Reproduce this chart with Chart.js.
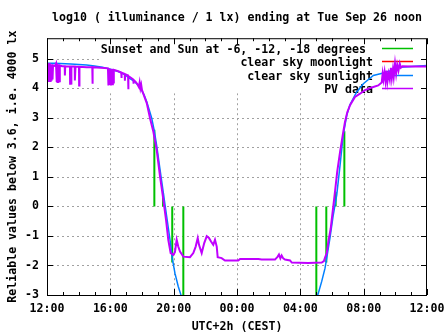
<!DOCTYPE html>
<html lang="en">
<head>
    <meta charset="UTF-8">
    <title>log10 illuminance</title>
    <style>
        body { margin: 0; background: #fff; }
        canvas { display: block; }
    </style>
</head>
<body>
    <canvas id="lux" width="447" height="335"></canvas>

    <script src="https://cdn.jsdelivr.net/npm/chart.js"></script>
    <script>
        // hours after Tue noon (CEST) and log10(lx) values
        const xTickValues = [0, 4, 8, 12, 16, 20, 24];
        const xTickLabels = ['12:00', '16:00', '20:00', '00:00', '04:00', '08:00', '12:00'];
        const yTickValues = [-3, -2, -1, 0, 1, 2, 3, 4, 5];

        // Sunset and Sun at -6, -12, -18 degrees (vertical marks from 0)
        const sunEventHours = [6.78, 7.33, 7.91, 8.61, 17.01, 17.64, 18.23, 18.78];
        const sunEventTops  = [2.6, 0.45, -1.9, -3.0, -3.0, -1.9, 0.5, 2.55];

        // clear sky moonlight: nothing visible in range
        const moonHours = [];
        const moonValues = [];

        // clear sky sunlight
        const clearHours = [0, 0.5, 1.5, 2.5, 3.0, 3.5, 4.0, 4.5, 4.9, 5.24, 5.49, 5.87, 6.13, 6.30, 6.44,
            6.61, 6.78, 6.93, 7.14, 7.35, 7.56, 7.77, 7.91, 8.08, 8.29, 8.46, 8.55,
            16.98, 17.14, 17.35, 17.56, 17.70, 17.87, 18.08, 18.30, 18.51, 18.71, 18.93, 19.14,
            19.56, 19.98, 20.61, 21.24, 21.7, 22.3, 24];
        const clearValues = [4.85, 4.85, 4.83, 4.79, 4.76, 4.72, 4.65, 4.57, 4.47, 4.33, 4.25, 4.05, 3.78, 3.55, 3.3,
            3.0, 2.55, 2.05, 1.25, 0.45, -0.34, -1.13, -1.75, -2.26, -2.71, -3.0, -3.2,
            -3.2, -2.93, -2.54, -2.09, -1.64, -1.07, -0.29, 0.39, 1.4, 2.42, 3.09, 3.45,
            3.88, 4.16, 4.44, 4.52, 4.6, 4.72, 4.78];

        // PV data
        const pvHours = [0.00, 0.02, 0.05, 0.08, 0.11, 0.14, 0.17, 0.20, 0.23, 0.26, 0.29, 0.32, 0.35, 0.38, 0.50,
            0.57, 0.60, 0.63, 0.66, 0.69, 0.72, 0.75, 0.78, 0.81, 0.95,
            1.12, 1.13, 1.15, 1.45, 1.46, 1.49, 1.52, 1.54, 1.75, 1.76, 1.80, 2.02, 2.03, 2.05, 2.5,
            2.86, 2.87, 2.89, 3.4, 3.85, 3.88, 3.92, 3.96, 4.00, 4.04, 4.08, 4.12, 4.16, 4.19, 4.22, 4.5,
            4.69, 4.70, 4.72, 4.91, 4.92, 4.94, 5.12, 5.13, 5.15, 5.30, 5.45, 5.46, 5.48, 5.60,
            5.70, 5.80, 5.85, 5.90, 5.95, 6.00, 6.08, 6.30, 6.51, 6.71, 6.93, 7.14, 7.35, 7.52, 7.66, 7.81, 7.98,
            8.08, 8.19, 8.29, 8.40, 8.61, 9.03, 9.24, 9.39, 9.52, 9.60, 9.77, 9.93, 10.09, 10.23, 10.36,
            10.50, 10.61, 10.72, 10.78, 11.03, 11.24, 12.08, 12.19, 13.35, 13.56, 14.40, 14.57, 14.65,
            14.74, 14.82, 14.92, 15.03, 15.35, 15.46, 16.50, 17.35, 17.49, 17.56, 17.67, 17.77, 17.92,
            18.04, 18.19, 18.33, 18.51, 18.68, 18.82, 18.97, 19.14, 19.45, 19.77, 20.08, 20.51, 20.92,
            21.14, 21.20, 21.25, 21.32, 21.38, 21.45, 21.50, 21.58, 21.65, 21.72, 21.78, 21.85, 21.90,
            21.98, 22.05, 22.12, 22.20, 22.28, 22.35, 22.45, 23.0, 24];
        const pvValues = [4.55, 4.84, 4.24, 4.82, 4.22, 4.86, 4.25, 4.82, 4.22, 4.80, 4.26, 4.82, 4.30, 4.78, 4.76,
            4.84, 4.22, 4.86, 4.22, 4.82, 4.23, 4.82, 4.24, 4.78, 4.75,
            4.75, 4.44, 4.75, 4.74, 4.16, 4.74, 4.17, 4.74, 4.74, 4.27, 4.74, 4.73, 4.10, 4.73, 4.72,
            4.72, 4.16, 4.72, 4.70, 4.68, 4.10, 4.67, 4.12, 4.66, 4.10, 4.66, 4.14, 4.64, 4.20, 4.63, 4.58,
            4.54, 4.35, 4.53, 4.49, 4.26, 4.48, 4.44, 3.97, 4.42, 4.36, 4.30, 4.16, 4.29, 4.22,
            4.15, 4.05, 4.20, 4.00, 4.12, 3.94, 3.82, 3.50, 2.98, 2.55, 1.91, 1.01, 0.22, -0.46, -1.13, -1.58, -1.64,
            -1.55, -1.13, -1.36, -1.53, -1.70, -1.72, -1.58, -1.36, -1.07, -1.30, -1.58, -1.24, -1.01, -1.07, -1.19,
            -1.30, -1.13, -1.36, -1.72, -1.75, -1.83, -1.83, -1.78, -1.78, -1.80, -1.80, -1.70, -1.63,
            -1.76, -1.66, -1.76, -1.80, -1.83, -1.90, -1.92, -1.90, -1.85, -1.73, -1.58, -1.19, -0.74,
            -0.18, 0.50, 1.18, 1.85, 2.42, 2.86, 3.20, 3.43, 3.71, 3.82, 3.94, 4.03, 4.10,
            4.20, 4.50, 4.30, 4.55, 4.25, 4.60, 4.22, 4.50, 4.30, 4.70, 4.35, 4.65, 4.40,
            4.84, 4.50, 4.80, 4.60, 4.84, 4.70, 4.75, 4.74, 4.74];

        const monoFont = { family: '"DejaVu Sans Mono", monospace', size: 11.6, weight: 'bold' };

        function toPoints(xs, ys) {
            return xs.map((x, i) => ({ x: x, y: ys[i] }));
        }

        // each event is a vertical segment from 0 to its top, broken by a gap
        function eventSegments(hours, tops) {
            const pts = [];
            hours.forEach((h, i) => {
                pts.push({ x: h, y: 0 }, { x: h, y: tops[i] }, { x: h, y: null });
            });
            return pts;
        }

        const keyItems = [
            { text: 'Sunset and Sun at -6, -12, -18 degrees', color: '#00c000', shift: -7 },
            { text: 'clear sky moonlight', color: '#ff0000', shift: 0 },
            { text: 'clear sky sunlight', color: '#0080ff', shift: 0 },
            { text: 'PV data', color: '#c000ff', shift: 0 }
        ];

        // gnuplot look: dashed grid, opaque key box with key, frame with inward ticks
        const gnuplotFrame = {
            id: 'gnuplotFrame',
            beforeDatasetsDraw(chart) {
                const { ctx, chartArea: a, scales: { x, y } } = chart;
                ctx.save();
                ctx.strokeStyle = '#a0a0a0';
                ctx.lineWidth = 1;
                ctx.setLineDash([2, 3]);
                ctx.beginPath();
                xTickValues.slice(1, -1).forEach(v => {
                    const px = Math.round(x.getPixelForValue(v)) + 0.5;
                    ctx.moveTo(px, a.top);
                    ctx.lineTo(px, a.bottom);
                });
                yTickValues.slice(1).forEach(v => {
                    const py = Math.round(y.getPixelForValue(v)) + 0.5;
                    ctx.moveTo(a.left, py);
                    ctx.lineTo(a.right, py);
                });
                ctx.stroke();
                // key background hides the grid
                ctx.setLineDash([]);
                ctx.fillStyle = '#fff';
                ctx.fillRect(a.left + 53, a.top + 1, a.right - a.left - 60, 54);

                ctx.font = 'bold 11.6px "DejaVu Sans Mono", monospace';
                ctx.textAlign = 'right';
                ctx.textBaseline = 'middle';
                keyItems.forEach((item, i) => {
                    const ly = Math.round(a.top + 9.7 + i * 13.33) + 0.5;
                    ctx.fillStyle = '#000';
                    ctx.fillText(item.text, a.left + 326 + item.shift, ly + 1.5);
                    ctx.strokeStyle = item.color;
                    ctx.lineWidth = 1.5;
                    ctx.beginPath();
                    ctx.moveTo(a.left + 335, ly);
                    ctx.lineTo(a.left + 366, ly);
                    ctx.stroke();
                });
                ctx.restore();
            },
            afterDatasetsDraw(chart) {
                const { ctx, chartArea: a, scales: { x, y } } = chart;
                ctx.save();
                ctx.strokeStyle = '#000';
                ctx.lineWidth = 1;
                ctx.strokeRect(a.left + 0.5, a.top + 0.5, a.right - a.left - 1, a.bottom - a.top);
                ctx.beginPath();
                for (let h = 0; h <= 24; h++) {
                    const px = Math.round(x.getPixelForValue(h)) + 0.5;
                    const len = h % 4 === 0 ? 6 : 3;
                    ctx.moveTo(px, a.bottom);
                    ctx.lineTo(px, a.bottom - len);
                    ctx.moveTo(px, a.top);
                    ctx.lineTo(px, a.top + len);
                }
                yTickValues.forEach(v => {
                    const py = Math.round(y.getPixelForValue(v)) + 0.5;
                    ctx.moveTo(a.left, py);
                    ctx.lineTo(a.left + 6, py);
                    ctx.moveTo(a.right, py);
                    ctx.lineTo(a.right - 6, py);
                });
                ctx.stroke();
                ctx.restore();
            }
        };

        const ctx = document.getElementById('lux').getContext('2d');
        new Chart(ctx, {
            type: 'line',
            data: {
                datasets: [
                    {
                        label: 'Sunset and Sun at -6, -12, -18 degrees',
                        data: eventSegments(sunEventHours, sunEventTops),
                        borderColor: '#00c000', borderWidth: 2, spanGaps: false, order: 4
                    },
                    {
                        label: 'clear sky moonlight',
                        data: toPoints(moonHours, moonValues),
                        borderColor: '#ff0000', borderWidth: 1.5, order: 3
                    },
                    {
                        label: 'clear sky sunlight',
                        data: toPoints(clearHours, clearValues),
                        borderColor: '#0080ff', borderWidth: 1.5, order: 2
                    },
                    {
                        label: 'PV data',
                        data: toPoints(pvHours, pvValues),
                        borderColor: '#c000ff', borderWidth: 2, order: 1
                    }
                ]
            },
            options: {
                responsive: false,
                animation: false,
                devicePixelRatio: 1,
                layout: { padding: { left: 0, right: 20, top: 0, bottom: 0 } },
                elements: {
                    point: { radius: 0 },
                    line: { tension: 0, fill: false, borderJoinStyle: 'miter' }
                },
                datasets: { line: { clip: 0 } },
                plugins: {
                    legend: { display: false },
                    tooltip: { enabled: false },
                    title: {
                        display: true,
                        fullSize: false,
                        text: 'log10 ( illuminance / 1 lx) ending at Tue Sep 26 noon',
                        color: '#000',
                        font: monoFont,
                        padding: { top: 11.5, bottom: 12.8 }
                    }
                },
                scales: {
                    x: {
                        type: 'linear',
                        min: 0,
                        max: 24,
                        grid: { display: false, drawTicks: false, tickLength: 0 },
                        border: { display: false },
                        afterBuildTicks: s => { s.ticks = xTickValues.map(v => ({ value: v })); },
                        afterFit: s => { s.height = 40; s.paddingLeft = 0; s.paddingRight = 0; },
                        ticks: {
                            callback: v => xTickLabels[xTickValues.indexOf(v)],
                            autoSkip: false,
                            maxRotation: 0,
                            padding: 7,
                            color: '#000',
                            font: monoFont
                        },
                        title: {
                            display: true,
                            text: 'UTC+2h (CEST)',
                            color: '#000',
                            font: monoFont,
                            padding: { top: 0, bottom: 1.5 }
                        }
                    },
                    y: {
                        min: -3,
                        max: 5.7,
                        grid: { display: false, drawTicks: false, tickLength: 0 },
                        border: { display: false },
                        afterBuildTicks: s => { s.ticks = yTickValues.map(v => ({ value: v })); },
                        afterFit: s => { s.width = 47; },
                        ticks: {
                            callback: v => String(v),
                            padding: 8,
                            color: '#000',
                            font: monoFont
                        },
                        title: {
                            display: true,
                            text: 'Reliable values below 3.6, i.e. 4000 lx',
                            color: '#000',
                            font: monoFont,
                            padding: { top: 6, bottom: 0 }
                        }
                    }
                }
            },
            plugins: [gnuplotFrame]
        });
    </script>
</body>
</html>
